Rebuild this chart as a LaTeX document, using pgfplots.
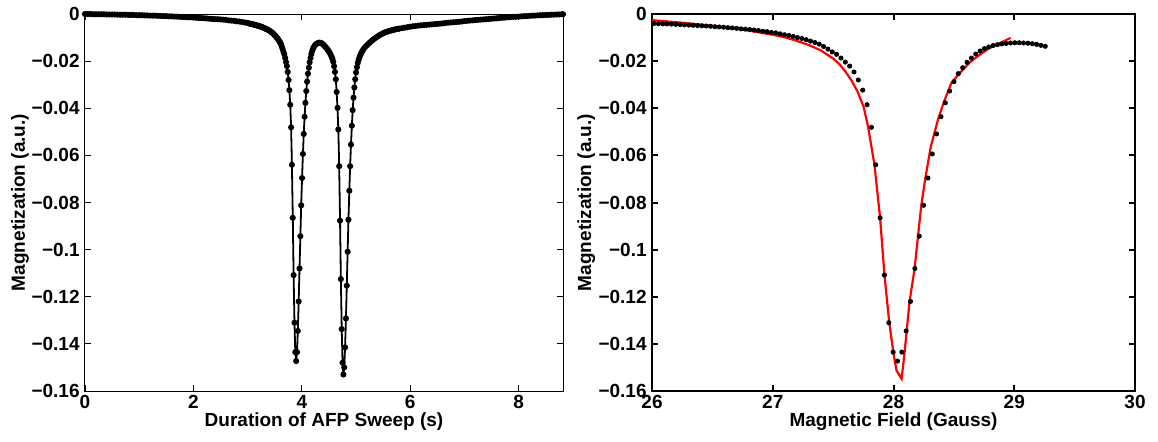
\documentclass[border=0pt]{standalone}
\usepackage{fontspec}
\setmainfont{Liberation Sans}
\usepackage{pgfplots}
\pgfplotsset{compat=1.18}
\usepackage{pgfplotstable}

% left tail of the sweep (time in s, magnetization)
\pgfplotstableread{
t y
0.00 0.0000
0.05 0.0000
0.10 0.0000
0.15 -0.0001
0.20 -0.0001
0.25 -0.0001
0.30 -0.0001
0.35 -0.0001
0.40 -0.0002
0.45 -0.0002
0.50 -0.0002
0.55 -0.0002
0.60 -0.0003
0.65 -0.0003
0.70 -0.0003
0.75 -0.0003
0.80 -0.0004
0.85 -0.0004
0.90 -0.0004
0.95 -0.0005
1.00 -0.0005
1.05 -0.0005
1.10 -0.0006
1.15 -0.0006
1.20 -0.0007
1.25 -0.0007
1.30 -0.0007
1.35 -0.0008
1.40 -0.0008
1.45 -0.0009
1.50 -0.0009
1.55 -0.0010
1.60 -0.0010
1.65 -0.0011
1.70 -0.0011
1.75 -0.0012
1.80 -0.0013
1.85 -0.0013
1.90 -0.0014
1.95 -0.0014
2.00 -0.0015
2.05 -0.0016
2.10 -0.0017
2.15 -0.0017
2.20 -0.0018
2.25 -0.0019
2.30 -0.0020
2.35 -0.0021
2.40 -0.0022
2.45 -0.0022
2.50 -0.0023
2.55 -0.0024
2.60 -0.0025
2.65 -0.0027
2.70 -0.0028
2.75 -0.0029
2.80 -0.0031
2.85 -0.0032
2.90 -0.0034
2.95 -0.0036
3.00 -0.0038
}\tailA

% first resonance: time (s), field (G), magnetization
\pgfplotstableread{
t B y
3.024 26.017 -0.0040
3.040 26.053 -0.0041
3.055 26.089 -0.0042
3.071 26.125 -0.0042
3.086 26.161 -0.0043
3.102 26.197 -0.0044
3.118 26.233 -0.0045
3.133 26.269 -0.0046
3.149 26.305 -0.0047
3.164 26.341 -0.0048
3.180 26.377 -0.0049
3.195 26.413 -0.0050
3.211 26.449 -0.0051
3.226 26.485 -0.0052
3.242 26.521 -0.0054
3.258 26.557 -0.0055
3.273 26.593 -0.0056
3.289 26.629 -0.0058
3.304 26.665 -0.0059
3.320 26.701 -0.0061
3.335 26.737 -0.0063
3.351 26.773 -0.0064
3.367 26.809 -0.0066
3.382 26.845 -0.0068
3.398 26.881 -0.0070
3.413 26.917 -0.0073
3.429 26.953 -0.0075
3.444 26.989 -0.0078
3.460 27.025 -0.0080
3.476 27.061 -0.0084
3.491 27.097 -0.0088
3.507 27.133 -0.0091
3.522 27.169 -0.0095
3.538 27.205 -0.0100
3.553 27.241 -0.0104
3.569 27.277 -0.0109
3.585 27.313 -0.0115
3.600 27.349 -0.0121
3.616 27.385 -0.0128
3.631 27.421 -0.0138
3.647 27.457 -0.0149
3.662 27.493 -0.0161
3.678 27.529 -0.0171
3.694 27.565 -0.0187
3.709 27.601 -0.0204
3.725 27.637 -0.0221
3.740 27.673 -0.0246
3.756 27.709 -0.0280
3.771 27.745 -0.0323
3.787 27.781 -0.0385
3.803 27.817 -0.0481
3.818 27.853 -0.0640
3.834 27.889 -0.0865
3.849 27.925 -0.1108
3.865 27.961 -0.1310
3.880 27.997 -0.1435
3.896 28.033 -0.1473
3.912 28.069 -0.1435
3.927 28.105 -0.1345
3.943 28.141 -0.1220
3.958 28.177 -0.1080
3.974 28.213 -0.0943
3.989 28.249 -0.0812
4.005 28.285 -0.0696
4.021 28.321 -0.0594
4.036 28.357 -0.0509
4.052 28.393 -0.0436
4.067 28.429 -0.0377
4.083 28.465 -0.0327
4.098 28.501 -0.0287
4.114 28.537 -0.0253
4.130 28.573 -0.0228
4.145 28.609 -0.0205
4.161 28.645 -0.0187
4.176 28.681 -0.0170
4.192 28.717 -0.0157
4.207 28.753 -0.0147
4.223 28.789 -0.0140
4.239 28.825 -0.0134
4.254 28.861 -0.0130
4.270 28.897 -0.0127
4.285 28.933 -0.0125
4.301 28.969 -0.0123
4.316 29.005 -0.0122
4.332 29.041 -0.0122
4.348 29.077 -0.0123
4.363 29.113 -0.0124
4.379 29.149 -0.0126
4.394 29.185 -0.0129
4.410 29.221 -0.0133
4.425 29.257 -0.0137
}\dipA

% second resonance and right tail (time in s, magnetization)
\pgfplotstableread{
t y
4.441 -0.0141
4.457 -0.0145
4.472 -0.0150
4.488 -0.0155
4.503 -0.0160
4.519 -0.0166
4.534 -0.0173
4.550 -0.0181
4.566 -0.0191
4.581 -0.0203
4.597 -0.0222
4.612 -0.0246
4.628 -0.0277
4.643 -0.0331
4.659 -0.0398
4.674 -0.0490
4.690 -0.0646
4.706 -0.0877
4.721 -0.1125
4.737 -0.1337
4.752 -0.1480
4.768 -0.1530
4.783 -0.1500
4.799 -0.1415
4.815 -0.1292
4.830 -0.1153
4.846 -0.1009
4.861 -0.0873
4.877 -0.0750
4.892 -0.0646
4.908 -0.0554
4.924 -0.0474
4.939 -0.0408
4.955 -0.0355
4.970 -0.0312
4.986 -0.0277
5.001 -0.0248
5.017 -0.0226
5.033 -0.0208
5.048 -0.0195
5.064 -0.0184
5.079 -0.0175
5.095 -0.0167
5.110 -0.0160
5.126 -0.0154
5.142 -0.0148
5.17 -0.0140
5.20 -0.0133
5.225 -0.0127
5.25 -0.0122
5.275 -0.0117
5.30 -0.0112
5.325 -0.0107
5.35 -0.0103
5.375 -0.0099
5.40 -0.0095
5.425 -0.0091
5.45 -0.0088
5.475 -0.0085
5.50 -0.0082
5.525 -0.0079
5.55 -0.0077
5.575 -0.0075
5.60 -0.0073
5.625 -0.0071
5.65 -0.0070
5.675 -0.0068
5.70 -0.0067
5.725 -0.0065
5.75 -0.0064
5.775 -0.0063
5.80 -0.0062
5.85 -0.0060
5.90 -0.0058
5.95 -0.0056
6.00 -0.0054
6.05 -0.0052
6.10 -0.0051
6.15 -0.0049
6.20 -0.0048
6.25 -0.0047
6.30 -0.0046
6.35 -0.0045
6.40 -0.0044
6.45 -0.0043
6.50 -0.0042
6.55 -0.0041
6.60 -0.0040
6.65 -0.0038
6.70 -0.0037
6.75 -0.0036
6.80 -0.0035
6.85 -0.0034
6.90 -0.0033
6.95 -0.0032
7.00 -0.0030
7.05 -0.0029
7.10 -0.0028
7.15 -0.0027
7.20 -0.0026
7.25 -0.0025
7.30 -0.0024
7.35 -0.0023
7.40 -0.0022
7.45 -0.0021
7.50 -0.0020
7.55 -0.0019
7.60 -0.0018
7.65 -0.0017
7.70 -0.0016
7.75 -0.0015
7.80 -0.0014
7.85 -0.0013
7.90 -0.0012
7.95 -0.0012
8.00 -0.0011
8.05 -0.0010
8.10 -0.0009
8.15 -0.0009
8.20 -0.0008
8.25 -0.0007
8.30 -0.0007
8.35 -0.0006
8.40 -0.0005
8.45 -0.0005
8.50 -0.0004
8.55 -0.0004
8.60 -0.0003
8.65 -0.0003
8.70 -0.0002
8.75 -0.0002
8.80 -0.0001
8.82 -0.0001
}\tailB

% fitted curve (field in G, magnetization)
\pgfplotstableread{
B y
26.00 -0.0026
26.25 -0.0037
26.50 -0.0050
26.75 -0.0066
27.00 -0.0088
27.10 -0.0099
27.20 -0.0114
27.30 -0.0132
27.40 -0.0155
27.50 -0.0189
27.55 -0.0212
27.60 -0.0243
27.65 -0.0280
27.703 -0.0330
27.753 -0.0395
27.79 -0.0480
27.842 -0.0639
27.889 -0.0865
27.925 -0.1107
27.965 -0.1310
28.000 -0.1440
28.025 -0.1513
28.067 -0.1548
28.092 -0.1435
28.133 -0.1220
28.175 -0.1080
28.203 -0.0943
28.230 -0.0812
28.264 -0.0696
28.308 -0.0565
28.370 -0.0445
28.420 -0.0370
28.480 -0.0292
28.550 -0.0250
28.633 -0.0205
28.700 -0.0178
28.786 -0.0147
28.880 -0.0124
28.970 -0.0101
}\fitred

\begin{document}
\begin{tikzpicture}
\useasboundingbox (0,0) rectangle (579pt,220.5pt);
\pgfplotsset{
  mat/.style={
    scale only axis, clip=false,
    height=188.5pt,
    ymin=-0.16, ymax=0,
    ytick={-0.16,-0.14,-0.12,-0.1,-0.08,-0.06,-0.04,-0.02,0},
    yticklabels={−0.16,−0.14,−0.12,−0.1,−0.08,−0.06,−0.04,−0.02,0},
    tick align=inside, major tick length=2.8pt,
    tick label style={font=\fontsize{9.5}{11}\selectfont\bfseries},
    xticklabel style={inner sep=0pt, yshift=-2pt},
    yticklabel style={inner sep=0pt, xshift=-2.5pt},
    ylabel={Magnetization (a.u.)},
    every axis y label/.style={at={(axis description cs:-0.136,0.5)}, rotate=90, anchor=center,
      font=\fontsize{9.5}{11}\selectfont\bfseries},
    every axis x label/.style={at={(axis description cs:0.5,0)}, anchor=north, inner sep=0pt, yshift=-10.5pt,
      font=\fontsize{9.5}{11}\selectfont\bfseries},
  }
}
\begin{axis}[mat,
  at={(42.5pt,25pt)}, anchor=south west,
  width=239pt,
  xmin=0, xmax=8.82,
  xtick={0,2,4,6,8}, xticklabels={0,2,4,6,8},
  xlabel={Duration of AFP Sweep (s)},
  axis line style={line width=0.5pt},
  every tick/.style={black, line width=0.4pt},
]
\addplot[black, line width=0.9pt, mark=*, mark size=1.05pt] table[x=t,y=y]{\tailA};
\addplot[black, line width=0.9pt, mark=*, mark size=1.05pt] table[x=t,y=y]{\dipA};
\addplot[black, line width=0.9pt, mark=*, mark size=1.05pt] table[x=t,y=y]{\tailB};
\end{axis}

\begin{axis}[mat,
  at={(326pt,25pt)}, anchor=south west,
  width=241.5pt,
  xmin=26, xmax=30,
  xtick={26,27,28,29,30}, xticklabels={26,27,28,29,30},
  xlabel={Magnetic Field (Gauss)},
  axis line style={line width=1.1pt},
  every tick/.style={black, line width=1pt},
]
\addplot[black, only marks, mark=*, mark size=1.05pt] table[x=B,y=y]{\dipA};
\addplot[red, line width=1.1pt, no marks] table[x=B,y=y]{\fitred};
\end{axis}
\end{tikzpicture}
\end{document}
